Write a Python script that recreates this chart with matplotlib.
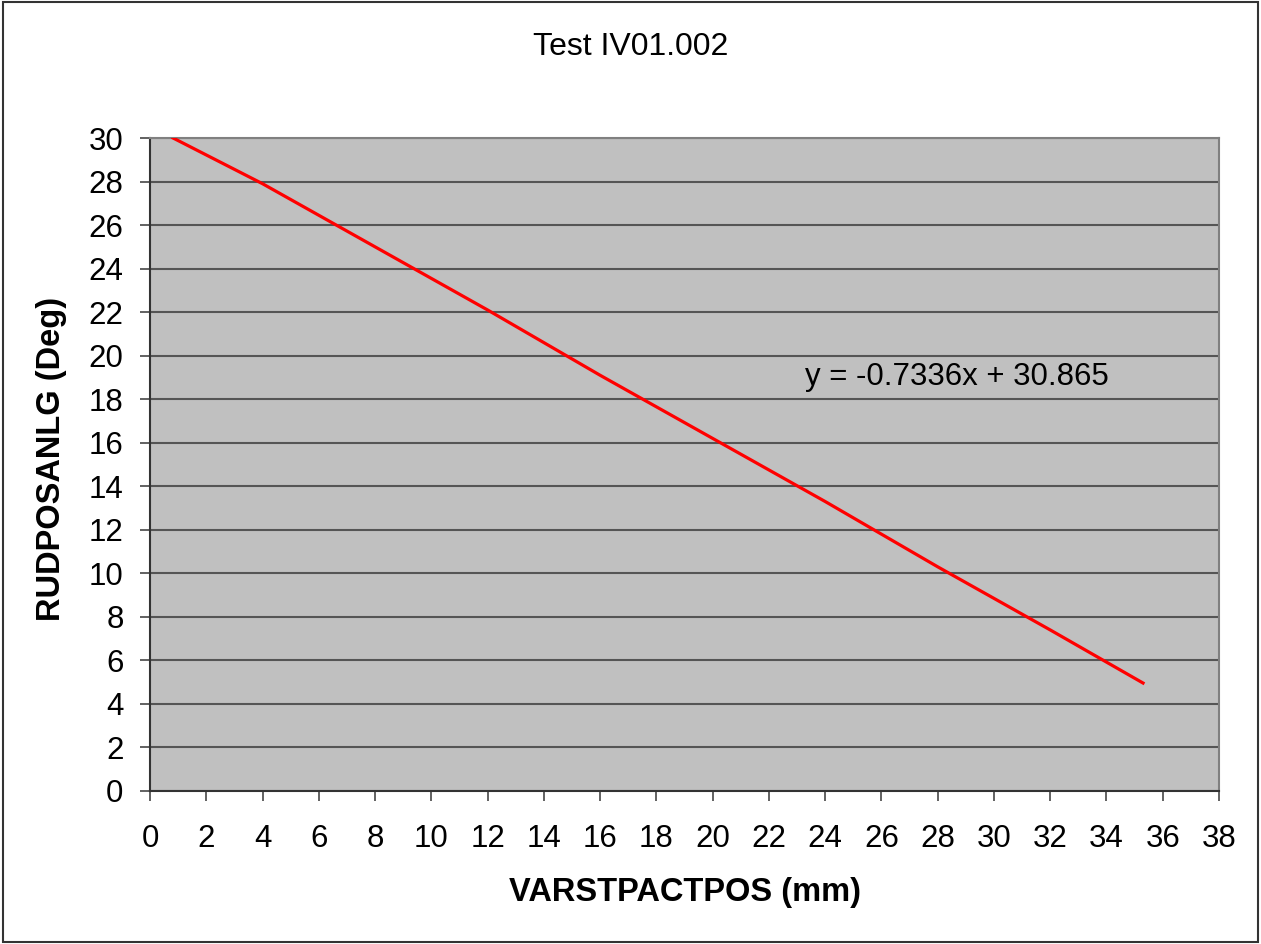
import matplotlib
matplotlib.use('Agg')
import matplotlib.pyplot as plt
from matplotlib.patches import Rectangle

plt.rcParams['font.family'] = ['Liberation Sans', 'DejaVu Sans']

# values
pos_mm = [0.82, 4, 8, 12, 16, 20, 24, 28, 32, 35.3]
angle_deg = [30.0, 27.9, 25.0, 22.1, 19.1, 16.2, 13.3, 10.3, 7.4, 4.96]
x_ticks = list(range(0, 39, 2))
y_ticks = list(range(0, 31, 2))
equation = 'y = -0.7336x + 30.865'

fig = plt.figure(figsize=(12.61, 9.44), dpi=100)
ax = fig.add_axes([150 / 1261, 1 - 791 / 944, 1069 / 1261, 653 / 944])
ax.set_facecolor('#c0c0c0')

ax.plot(pos_mm, angle_deg, color='red', lw=2.3, zorder=3)

ax.set_xlim(0, 38)
ax.set_ylim(0, 30)
ax.set_xticks(x_ticks)
ax.set_yticks(y_ticks)
ax.grid(axis='y', color='#555555', lw=1.5)
ax.set_axisbelow(True)

for side in ['left', 'bottom']:
    ax.spines[side].set_color('#333333')
    ax.spines[side].set_linewidth(1.5)
for side in ['right', 'top']:
    ax.spines[side].set_color('#808080')
    ax.spines[side].set_linewidth(1.5)

ax.tick_params(axis='both', direction='out', length=7, width=1.3, color='#555555',
               labelsize=22.5)
ax.tick_params(axis='y', pad=12)
ax.tick_params(axis='x', pad=17)

ax.text(23.3, 19.0, equation, fontsize=22.5, va='center', ha='left')

fig.text(631 / 1261, 1 - 47 / 944, 'Test IV01.002', fontsize=23, ha='center', va='center')
fig.text(685 / 1261, 1 - 892 / 944, 'VARSTPACTPOS (mm)', fontsize=23.5, fontweight='bold',
         ha='center', va='center')
fig.text(52 / 1261, 1 - 459 / 944, 'RUDPOSANLG (Deg)', fontsize=23.5, fontweight='bold',
         ha='center', va='center', rotation=90)

fig.patches.append(Rectangle((0.002, 0.002), 0.996, 0.996, transform=fig.transFigure,
                             fill=False, edgecolor='#333333', lw=1.5))

fig.savefig('out.png', dpi=100)
